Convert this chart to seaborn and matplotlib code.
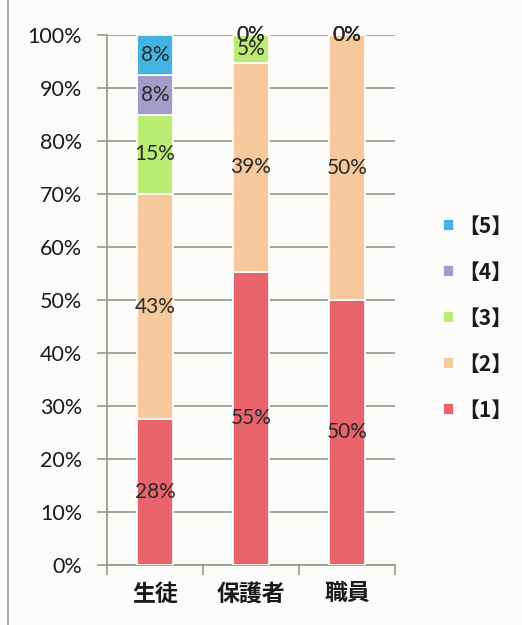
import numpy as np
import pandas as pd
import matplotlib
matplotlib.use("Agg")
import matplotlib.pyplot as plt
from matplotlib.lines import Line2D
from matplotlib.ticker import PercentFormatter
import seaborn as sns

categories = ["生徒", "保護者", "職員"]
series_names = ["【1】", "【2】", "【3】", "【4】", "【5】"]
s1 = [27.5, 55.3, 50.0]
s2 = [42.5, 39.5, 50.0]
s3 = [15.0, 5.2, 0.0]
s4 = [7.5, 0.0, 0.0]
s5 = [7.5, 0.0, 0.0]
labels1 = ["28%", "55%", "50%"]
labels2 = ["43%", "39%", "50%"]
labels3 = ["15%", "5%", "0%"]
labels4 = ["8%", "0%", "0%"]
labels5 = ["8%", "0%", "0%"]
yticks = [0, 10, 20, 30, 40, 50, 60, 70, 80, 90, 100]

series = [s1, s2, s3, s4, s5]
labels = [labels1, labels2, labels3, labels4, labels5]
colors = ["#E8636B", "#F6C99C", "#BAEB72", "#A29CCB", "#45B3E2"]

sns.set_theme(style="white")
plt.rcParams["font.family"] = ["Lato", "Noto Sans CJK JP", "DejaVu Sans"]

fig = plt.figure(figsize=(5.22, 6.25), dpi=100)
fig.patch.set_facecolor("#fbfbfa")
ax = fig.add_axes([0.205, 0.096, 0.552, 0.848])
ax.set_facecolor("#fbfbfa")

bottom = np.zeros(len(categories))
for name, vals, col in zip(series_names, series, colors):
    df = pd.DataFrame({"cat": categories, "val": vals})
    sns.barplot(data=df, x="cat", y="val", order=categories, color=col,
                saturation=1, width=0.38, bottom=bottom, ax=ax, edgecolor="white",
                linewidth=1.2, zorder=3, label=name)
    bottom = bottom + np.array(vals)

# data labels
cum = np.zeros(len(categories))
for vals, labs in zip(series, labels):
    for i, (v, lab) in enumerate(zip(vals, labs)):
        yc = cum[i] + v / 2.0
        ax.text(i, yc, lab, ha="center", va="center", fontsize=15,
                color="#2a2a2a", zorder=5)
    cum = cum + np.array(vals)

ax.set_ylim(0, 100)
ax.set_xlim(-0.5, 2.5)
ax.set_yticks(yticks)
ax.yaxis.set_major_formatter(PercentFormatter(decimals=0))
ax.grid(axis="y", color="#8f9a8c", linewidth=1.2, zorder=0)
ax.set_axisbelow(True)
ax.set_xlabel("")
ax.set_ylabel("")
for s in ["top", "right"]:
    ax.spines[s].set_visible(False)
ax.spines["left"].set_color("#8f9a8c")
ax.spines["bottom"].set_color("#8f9a8c")
ax.spines["left"].set_linewidth(1.2)
ax.spines["bottom"].set_linewidth(1.2)
ax.tick_params(axis="y", length=7, width=1.2, color="#8f9a8c", labelsize=15.5,
               labelcolor="#1a1a1a", pad=11, left=True)
ax.set_xticks([0, 1, 2])
ax.set_xticklabels(categories, fontsize=16.5, fontweight="bold", color="#1a1a1a")
ax.tick_params(axis="x", length=0, pad=13)
ax.set_xticks([-0.5, 0.5, 1.5, 2.5], minor=True)
ax.tick_params(axis="x", which="minor", length=7, width=1.2, color="#8f9a8c", bottom=True)

h, l = ax.get_legend_handles_labels()
leg = ax.legend(h[::-1], l[::-1], loc="center left", bbox_to_anchor=(1.10, 0.466),
                frameon=False, handlelength=0.55, handleheight=0.55,
                handletextpad=0.2, labelspacing=1.2,
                prop={"family": ["Noto Sans CJK JP", "DejaVu Sans"], "weight": "bold", "size": 15})
for t in leg.get_texts():
    t.set_color("#1a1a1a")

fig.add_artist(Line2D([0.016, 0.016], [0.0, 1.0], color="#9a9a95", linewidth=1.2))

fig.savefig("out.png", dpi=100, facecolor=fig.get_facecolor())
